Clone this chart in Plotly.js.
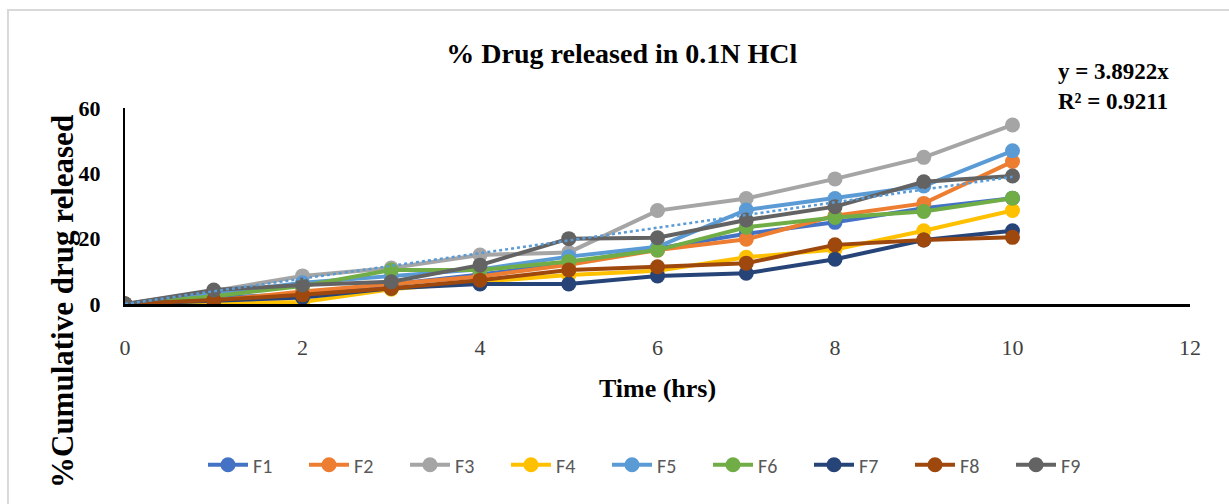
<!DOCTYPE html>
<html>
<head>
<meta charset="utf-8">
<script src="https://cdn.plot.ly/plotly-3.0.1.min.js"></script>
<style>html,body{margin:0;padding:0;background:#fff;}#chart{width:1229px;height:504px;}</style>
</head>
<body>
<div id="chart"></div>
<script>
const timeHrs = [0, 1, 2, 3, 4, 5, 6, 7, 8, 9, 10];
const seriesNames = ["F1", "F2", "F3", "F4", "F5", "F6", "F7", "F8", "F9"];
const F1 = [0, 2.0, 3.0, 6.0, 9.0, 12.5, 17.0, 21.5, 25.0, 29.3, 32.4];
const F2 = [0, 1.0, 3.8, 6.0, 8.4, 12.0, 16.5, 19.8, 27.0, 30.8, 43.6];
const F3 = [0, 4.0, 8.6, 11.0, 15.0, 15.8, 28.6, 32.3, 38.3, 44.9, 54.8];
const F4 = [0, 0.5, 0.6, 4.5, 6.8, 8.9, 10.2, 14.3, 16.7, 22.4, 28.6];
const F5 = [0, 3.0, 6.5, 8.5, 10.6, 14.5, 17.5, 28.8, 32.3, 36.1, 46.9];
const F6 = [0, 2.4, 5.5, 10.4, 10.4, 13.0, 16.5, 23.5, 26.5, 28.3, 32.4];
const F7 = [0, 1.0, 2.0, 4.8, 6.1, 6.1, 8.6, 9.4, 13.7, 19.6, 22.4];
const F8 = [0, 1.2, 2.8, 4.8, 7.3, 10.4, 11.4, 12.5, 18.1, 19.6, 20.4];
const F9 = [0, 4.3, 5.8, 6.8, 11.9, 20.0, 20.3, 25.7, 29.8, 37.4, 39.2];
const seriesValues = [F1, F2, F3, F4, F5, F6, F7, F8, F9];
const trendSlope = 3.8922;
const trendR2 = 0.9211;
const trendX = [0, 10];
const xTicks = [0, 2, 4, 6, 8, 10, 12];
const yTicks = [0, 20, 40, 60];

const colors = ["#4472c4", "#ed7d31", "#a5a5a5", "#ffc000", "#5b9bd5", "#70ad47", "#264478", "#9e480e", "#636363"];
const serif = "'Liberation Serif', 'Times New Roman', serif";

const traces = seriesNames.map((name, i) => ({
  type: "scatter", mode: "lines+markers", name: name,
  x: timeHrs, y: seriesValues[i],
  line: {color: colors[i], width: 4},
  marker: {color: colors[i], size: 15}
}));
traces.push({
  type: "scatter", mode: "lines", name: "Linear trend", showlegend: false,
  x: trendX, y: trendX.map(v => trendSlope * v),
  line: {color: "#5b9bd5", width: 2.5, dash: "dot"}
});

const layout = {
  width: 1229, height: 504,
  margin: {l: 125, r: 39, t: 108, b: 200},
  paper_bgcolor: "#ffffff", plot_bgcolor: "#ffffff",
  showlegend: true,
  title: {text: "% Drug released in 0.1N HCl", x: 0.506, xanchor: "center", y: 0.895, yanchor: "middle",
          font: {family: serif, size: 28, color: "#000", weight: "bold"}},
  xaxis: {
    range: [0, 12], tickvals: xTicks, ticktext: xTicks.map(String),
    showgrid: false, zeroline: false, showline: true, linecolor: "#000", linewidth: 3,
    ticks: "", ticklabelstandoff: 22,
    tickfont: {family: serif, size: 22, color: "#404040"},
    title: {text: "Time (hrs)", standoff: 20, font: {family: serif, size: 26, color: "#000", weight: "bold"}}
  },
  yaxis: {
    range: [0, 60], tickvals: yTicks, ticktext: yTicks.map(String),
    showgrid: false, zeroline: false, showline: true, linecolor: "#000", linewidth: 2,
    ticks: "", ticklabelstandoff: 18,
    tickfont: {family: serif, size: 22, color: "#000", weight: "bold"}
  },
  legend: {
    orientation: "h", x: 0.5, xanchor: "center", y: -0.82, yanchor: "middle",
    font: {family: "Carlito, 'Liberation Sans Narrow', 'DejaVu Sans Condensed', Roboto, sans-serif", size: 20, color: "#595959"},
    entrywidth: 46, entrywidthmode: "pixels", itemwidth: 40, bgcolor: "rgba(0,0,0,0)"
  },
  annotations: [
    {xref: "paper", yref: "paper", x: -0.0592, y: 0.015, xanchor: "center", yanchor: "middle",
     text: "%Cumulative drug released", textangle: -90, showarrow: false,
     font: {family: serif, size: 31, color: "#000", weight: "bold"}},
    {xref: "paper", yref: "paper", x: 0.874, y: 1.112, xanchor: "left", yanchor: "middle", align: "left",
     text: "y = " + trendSlope.toFixed(4) + "x<br>R² = " + trendR2.toFixed(4), showarrow: false,
     font: {family: serif, size: 23, color: "#000", weight: "bold"}}
  ],
  shapes: [
    {type: "rect", xref: "paper", yref: "paper", x0: -0.1099, x1: 1.05, y0: -1.1, y1: 1.5,
     line: {color: "#d9d9d9", width: 2}, fillcolor: "rgba(0,0,0,0)", layer: "below"}
  ]
};

Plotly.newPlot("chart", traces, layout, {displayModeBar: false, staticPlot: true});
</script>
</body>
</html>
